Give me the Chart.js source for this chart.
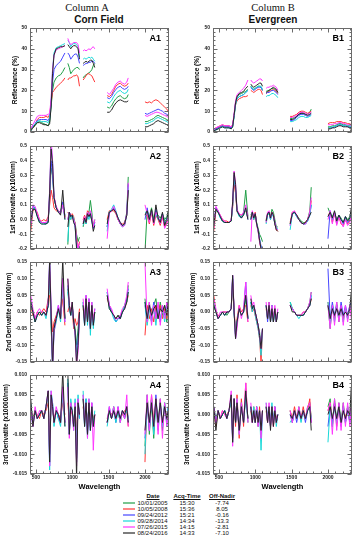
<!DOCTYPE html>
<html><head><meta charset="utf-8">
<script src="https://cdn.jsdelivr.net/npm/chart.js@4.4.1/dist/chart.umd.min.js"></script>
<style>
html,body{margin:0;padding:0;background:#fff;}
body{width:357px;height:550px;position:relative;overflow:hidden;font-family:"Liberation Sans",Arial,sans-serif;}
canvas{position:absolute;}
.t{position:absolute;white-space:nowrap;transform:translateX(-50%);color:#111;line-height:1;}
.lg{position:absolute;white-space:nowrap;transform:translateX(-50%);color:#111;font-size:6px;line-height:6px;}
.ln{position:absolute;height:2px;width:12px;left:123px;}
</style></head><body>
<div class="t" style="left:87px;top:2px;font:10.5px 'Liberation Serif',serif;">Column A</div>
<div class="t" style="left:99px;top:14px;font:bold 10px 'Liberation Sans',sans-serif;">Corn Field</div>
<div class="t" style="left:273px;top:2px;font:10.5px 'Liberation Serif',serif;">Column B</div>
<div class="t" style="left:273px;top:14px;font:bold 10px 'Liberation Sans',sans-serif;">Evergreen</div>
<div id="legend"></div>
<script>
// ---------------- DATA ----------------
const wavelengths = [430,460,490,520,550,580,610,640,670,690,710,730,750,780,810,840,870,900,
  940,960,980,1000,1020,1040,1060,1080,1100,
  1150,1170,1190,1210,1230,1250,1270,1290,1310,
  1480,1510,1540,1570,1600,1630,1660,1690,1720,1750,1770,
  2000,2030,2060,2090,2120,2150,2180,2210,2240,2270,2300,2320];
const xTickLabels = [500,1000,1500,2000];
const dates = ['10/01/2005','10/05/2008','09/24/2012','09/28/2014','07/26/2015','08/24/2016'];
const acqTimes = ['15:30','15:36','15:21','14:34','14:15','14:33'];
const offNadir = ['-7.74','8.05','-0.16','-13.3','-2.81','-7.10'];
const reflTicks = [0,10,20,30,40,50];
const d1Ticks = [-0.2,-0.1,0,0.1,0.2,0.3,0.4,0.5];
const d2Ticks = [-0.15,-0.10,-0.05,0,0.05,0.10,0.15];
const d3Ticks = [-0.015,-0.010,-0.005,0,0.005,0.010];

// series order: 2005 green, 2008 red, 2012 blue, 2014 cyan, 2015 magenta, 2016 black
const A1 = [
 [1,2,3,4.5,5,4.5,4,3.5,3,5,12,20,24,26,27,27.5,29,31, 33,31,28,29,30,30.5,31,31,30, 26,27,27.5,28,28.5,29,30,32,33, 12,11.5,12.5,14.5,16,17,17.5,16.5,16,16.5,18, 5,5,5.5,6,6.5,7.5,8,7.5,7,6.5,6,5.5],
 [2.5,2,3.5,6,7,7,7,7.5,7,8.5,14,19,20,21.5,22.5,23.5,24.5,26, 25,26,26,26.5,27,27,27.5,26.5,22, 25,26,27,28,28,27.5,27,25.5,24, 17.5,17,18,20,22,23,23.5,22.5,22,22.5,23.5, 14.5,14,14.5,14,15,15.5,15,14,13,12,11,10],
 [1.5,2.5,4,5.5,6,6,6,6,5.5,7,14,24,30,32,33,34,36,38, 38,37,35,36,37,37.5,37.5,36,33, 32,32.5,33,33,33.5,33.5,34,34,33, 16.5,16,17,19,20.5,21.5,22,21,20.5,21,22, 9,8.5,9,9.5,10,10.5,11,10.5,10,9,8.5,8],
 [0.5,2.5,4,5,5.5,5,5,5,4.5,6,14,30,38,40.5,41,41.5,42,42.5, 44,43,41,42,42.5,42.5,42,41,36, 35,35.5,35,35.5,36,35.5,36,35,34, 14.5,14,15,17,18.5,19.5,20,19,18.5,19,20.5, 4,4,4.5,5,5.5,6.5,7,6.5,6,5.5,5,4.5],
 [1.5,3.5,5.5,7.5,8,8,8,8,8.5,9,16,30,37,39.5,40,40.5,41,41.5, 45,43,42,42.5,43,43,43,42,38, 39,39.5,39,39.5,40,39.5,40.5,41,40, 19,18,19.5,21,23,24,24.5,23.5,23,24,26, 8,7.5,8,8.5,9,9.5,9.5,9,8.5,8,7.5,7],
 [0.5,2,3.5,4.5,4.5,4,3.5,3.5,3,4,12,28,37,40,40.5,41,41,41.5, 42,41,40,41,41.5,41.5,41,40,35, 33,33.5,34,33.5,34,34.5,34.5,33,31, 9.5,9.5,10.5,12.5,14,15,15.5,15,14.5,14.5,15, 2.5,2.5,3,3.5,4,5,5.5,5,4.5,4,3.5,3]
];
const B1 = [
 [1,1.5,2,2.5,3,2.5,2.5,2.5,2,3,8,14,17,18,18.5,19,19.5,20.5, 22,21,20.5,21,21.5,22,22,21.5,20, 19.5,20,20,20.5,21,21,20.5,20,19, 6.5,6.5,7,7.5,8.5,9,9,8.5,8.5,9.5,11, 2.5,2.5,3,3,3.5,4,4,3.5,3.5,3,3,3],
 [1.5,2,2.5,3,3.5,3,3,3,2.5,3.5,8,13,15,16,16.5,17,17,17.5, 20,19.5,19,19.5,20,20.5,20.5,20,18, 18.5,19,19.5,20,20,20.5,20,19.5,18.5, 7.5,7.5,8,8.5,9.5,10,10,9.5,9,9.5,10, 4,4.5,4.5,4.5,5,5,5,4.5,4.5,4,4,3.5],
 [1,1.5,2,2.5,3,2.5,2.5,2.5,2,3,8,14,16,17,17.5,18,19,20, 21.5,20.5,20,20.5,21,21.5,21.5,21.5,20, 18.5,19,19,19.5,20,20,19.5,19,18, 5.5,5.5,6,7,8,8.5,8.5,8,7.5,8,8.5, 1.5,2,2,2.5,3,3.5,3.5,3,3,2.5,2.5,2],
 [0.5,1,1.5,2,2.5,2,2,2,1.5,2.5,7,13,16,17,17.5,18,19,20, 22,21,20.5,21,21.5,22,22,22,20.5, 17,17.5,17.5,18,18.5,18.5,18,17.5,16.5, 5,5,5.5,6,7,7.5,7.5,7,7,7.5,8, 2,2,2.5,2.5,3,3.5,3.5,3,3,3,2.5,2.5],
 [1,2,2.5,3,3.5,3,3,3,2.5,3.5,9,15,18,19,20,21,22.5,25, 25,24,23.5,24,24.5,25,25.5,25.5,24.5, 21,21.5,21.5,22,22,22.5,22,21.5,20, 7,7,7.5,8,9,9.5,9.5,9,8.5,9,9.5, 3.5,3.5,3.5,4,4,4.5,4.5,4,4,3.5,3.5,3],
 [0.5,1,1.5,2,2.5,2,2,2,1.5,2.5,8,14,17,18.5,19,19.5,21,22, 23,22,21.5,22,22.5,23,23.5,23.5,22, 19,19.5,20,20.5,21,21.5,21,20.5,19, 6,6,6.5,7.5,8.5,9,9,8.5,8,8.5,9, 1.5,1.5,2,2,2.5,3,3,2.5,2.5,2.5,2,2]
];
const A2 = [
 [-0.05,0.08,0.07,0.03,-0.01,-0.02,-0.02,-0.03,-0.01,0.15,0.35,0.3,0.15,0.08,0.06,0.05,0.12,0.02, -0.17,0.05,0.02,0.03,0,-0.02,-0.1,-0.15,-0.12, -0.05,0,-0.03,0.03,0.05,0.13,0.05,-0.05,0, -0.05,0.05,0.06,0.07,0.05,0,-0.03,-0.04,-0.03,0.05,0.29, -0.22,0.06,0.02,0.08,0,0.05,0.03,0.01,0.04,0,0.02,0.05],
 [-0.08,0.06,0.07,0.05,0,-0.01,0,-0.01,0.02,0.1,0.2,0.15,0.08,0.06,0.05,0.05,0.1,0.02, 0.05,0.03,0,0.04,0.02,-0.03,-0.12,-0.2,-0.15, 0,0.03,0,0.06,0.05,0.02,0,-0.04,-0.02, 0,0.06,0.06,0.06,0.04,0,-0.02,-0.03,-0.02,0.03,0.2, 0.02,0.03,-0.03,0.05,-0.04,0.03,0,-0.04,0.02,-0.05,-0.02,0],
 [-0.03,0.09,0.08,0.03,-0.01,-0.02,-0.02,-0.03,-0.01,0.15,0.4,0.3,0.15,0.08,0.05,0.05,0.12,0.03, 0,0.05,0.02,0.03,-0.01,-0.05,-0.18,-0.25,-0.2, -0.03,0.01,-0.02,0.04,0.02,0.03,0,-0.06,-0.02, -0.05,0.05,0.06,0.08,0.05,0.01,-0.02,-0.04,-0.03,0.04,0.24, 0,0.08,0,0.06,-0.02,0.07,0.02,-0.02,0.04,-0.03,0,0.04],
 [-0.02,0.07,0.08,0.02,-0.02,-0.03,-0.03,-0.03,-0.02,0.2,0.5,0.4,0.15,0.08,0.05,0.04,0.1,0, -0.15,0.05,0,0.03,0.01,-0.04,-0.15,-0.22,-0.18, -0.04,0,-0.03,0.03,0,0.05,-0.02,-0.05,-0.03, -0.08,0.05,0.07,0.1,0.06,0.01,-0.03,-0.05,-0.04,0.03,0.22, 0.05,0.05,0.01,0.05,-0.01,0.04,0,-0.01,0.03,-0.02,0.01,0.03],
 [-0.04,0.1,0.09,0.04,0,-0.02,-0.02,-0.02,0,0.2,0.55,0.4,0.16,0.09,0.06,0.04,0.1,0.01, 0,0.05,0.03,0.02,0,-0.03,-0.14,-0.2,-0.16, -0.02,0.02,-0.02,0.05,0.03,0.06,0.02,-0.05,0, -0.13,0.04,0.06,0.09,0.05,0,-0.03,-0.05,-0.04,0.04,0.25, 0.1,0.04,-0.02,0.06,-0.03,0.05,0.02,-0.03,0.03,-0.06,-0.03,0.02],
 [-0.01,0.07,0.07,0.02,-0.02,-0.03,-0.03,-0.03,-0.02,0.18,0.48,0.38,0.15,0.08,0.05,0.03,0.2,0, -0.05,0.05,0.02,0.03,-0.02,-0.04,-0.2,-0.25,-0.2, -0.03,0.01,-0.02,0.04,0.02,0.04,-0.01,-0.08,-0.04, -0.03,0.05,0.06,0.07,0.05,0.01,-0.02,-0.04,-0.03,0.03,0.2, 0.03,0.06,0,0.07,-0.02,0.1,0.01,-0.02,0.05,-0.04,0,0.06]
];
const B2 = [
 [-0.05,0.07,0.05,0.02,-0.01,-0.02,-0.02,-0.02,-0.01,0.1,0.3,0.2,0.06,0.03,0.02,0.05,0.2,0.02, 0.03,0.05,0.02,0.04,-0.02,-0.06,-0.1,-0.12,-0.15, -0.02,0.03,0.05,0.02,0.07,0.05,0,-0.05,-0.05, -0.03,0.04,0.05,0.03,0.01,-0.01,-0.02,-0.02,0,0.06,0.22, 0.08,0.04,0.02,0.05,0,0.03,0.01,-0.02,0.02,0,0.02,0.06],
 [-0.08,0.06,0.05,0.03,0,-0.01,-0.01,-0.02,0,0.08,0.25,0.18,0.05,0.04,0.03,0.04,0.06,0.01, 0.02,0.04,0,0.05,-0.03,-0.08,-0.15,-0.2,-0.22, 0,0.04,0.05,0.01,0.05,0.03,-0.03,-0.07,-0.08, -0.02,0.05,0.05,0.03,0,-0.02,-0.03,-0.02,0,0.04,0.13, 0.03,0.05,-0.02,0.04,-0.03,0.02,-0.03,-0.04,0,-0.03,-0.01,0.02],
 [-0.03,0.08,0.06,0.02,-0.01,-0.02,-0.02,-0.02,-0.01,0.1,0.3,0.2,0.06,0.03,0.01,0.04,0.08,0, 0,0.05,0.01,0.04,-0.03,-0.07,-0.13,-0.18,-0.2, -0.01,0.04,0.05,0,0.04,0.02,-0.02,-0.06,-0.07, -0.04,0.04,0.05,0.02,0,-0.02,-0.03,-0.03,-0.01,0.03,0.1, -0.13,0.06,0,0.05,-0.02,0.03,0,-0.03,0.02,-0.02,0,0.05],
 [0.05,0.06,0.05,0.01,-0.01,-0.02,-0.02,-0.02,-0.01,0.1,0.3,0.22,0.06,0.02,0.02,0.03,0.07,0.01, 0.01,0.04,0,0.03,-0.03,-0.08,-0.14,-0.19,-0.22, -0.03,0.03,0.04,0,0.04,0.02,-0.03,-0.06,-0.06, -0.07,0.04,0.05,0.02,0,-0.02,-0.03,-0.03,-0.01,0.03,0.1, 0.02,0.05,0,0.04,-0.01,0.02,0,-0.02,0.01,-0.01,0.01,0.04],
 [-0.06,0.09,0.06,0.03,0,-0.01,-0.02,-0.02,0,0.12,0.33,0.25,0.07,0.04,0.03,0.05,0.1,0.02, -0.15,0.06,0.02,0.04,-0.04,-0.08,-0.15,-0.2,-0.22, -0.02,0.05,0.06,0.01,0.05,0.03,-0.02,-0.06,-0.07, -0.04,0.05,0.06,0.03,0,-0.02,-0.03,-0.03,0,0.05,0.15, 0,0.06,-0.03,0.05,-0.04,0.02,-0.02,-0.05,0,-0.04,-0.02,0.03],
 [-0.04,0.07,0.05,0.02,-0.01,-0.02,-0.02,-0.02,-0.01,0.12,0.32,0.24,0.06,0.03,0.01,0.03,0.08,0, 0,0.05,0.01,0.04,-0.03,-0.07,-0.14,-0.2,-0.25, -0.01,0.04,0.05,0.01,0.05,0.03,-0.03,-0.07,-0.08, -0.03,0.04,0.05,0.03,0,-0.02,-0.03,-0.02,0,0.03,0.05, 0.02,0.05,0.01,0.06,-0.01,0.03,0,-0.02,0.02,-0.01,0.01,0.08]
];
const A3 = [
 [0.03,0,-0.02,-0.01,0,0,0,-0.01,0.02,0.12,-0.05,-0.14,-0.04,-0.02,0.01,-0.02,0.08,-0.02, 0.07,0.02,0,0.02,-0.02,-0.05,-0.1,-0.05,0, 0.02,-0.03,0.04,-0.02,0.03,-0.04,0.02,-0.03,0, 0.05,0.02,0,-0.01,-0.02,-0.01,-0.02,0,0.02,0.04,0.08, 0.04,-0.02,0.03,-0.03,0.02,0.04,-0.02,0.03,-0.01,0.02,-0.03,0.04],
 [0.02,-0.01,-0.02,0,-0.01,0,0.01,0,0.04,0.05,0,-0.06,-0.03,-0.01,0.01,-0.01,0.04,-0.04, 0,0.02,0,0.01,-0.05,-0.02,-0.04,-0.03,0.01, 0.01,-0.02,0.03,-0.03,0.02,-0.03,0.01,-0.02,0, 0.04,0.02,0,-0.01,-0.02,-0.02,-0.01,0,0.01,0.03,0.05, -0.07,0.02,-0.02,0.01,-0.03,0.02,-0.01,0.02,-0.02,0.01,-0.02,0.02],
 [0.03,0,-0.03,-0.01,0,-0.01,0,-0.01,0.02,0.14,-0.02,-0.16,-0.05,-0.02,0.02,-0.02,0.1,-0.03, 0.08,0.01,-0.01,0.02,-0.03,-0.06,-0.12,-0.08,0, 0.03,-0.04,0.05,-0.03,0.04,-0.05,0.02,-0.04,0.01, 0.06,0.02,0,-0.01,-0.03,-0.02,-0.02,0,0.01,0.04,0.07, 0.02,-0.03,0.02,-0.02,0.03,-0.02,0.01,-0.03,0.02,-0.01,0.02,0.03],
 [0.04,0,-0.03,-0.01,0,-0.01,0,-0.02,0.02,0.16,0,-0.18,-0.06,-0.03,0.01,-0.03,0.09,-0.02, 0.06,0.01,-0.01,0.02,-0.03,-0.07,-0.14,-0.1,-0.02, 0.03,-0.04,0.04,-0.04,0.03,-0.07,0.03,-0.05,0, 0.06,0.01,0,-0.02,-0.03,-0.02,-0.01,0,0.02,0.03,0.06, 0.03,-0.04,0.01,-0.03,0.02,-0.04,0.02,-0.02,0.01,-0.03,0.01,0.02],
 [0.05,0.01,-0.02,0,0.01,0,0,-0.01,0.03,0.16,0.02,-0.18,-0.06,-0.02,0.02,-0.02,0.1,-0.03, 0.1,0.02,0,0.03,-0.03,-0.07,-0.16,-0.12,-0.02, 0.04,-0.03,0.05,-0.02,0.04,-0.05,0.03,-0.03,0.01, 0.07,0.02,0.01,-0.01,-0.02,-0.02,-0.01,0.01,0.02,0.05,0.09, 0.15,-0.03,0.03,-0.04,0.02,-0.02,0.03,-0.04,0.02,-0.02,0.03,0],
 [0.03,0,-0.03,-0.01,0,-0.01,0,-0.01,0.02,0.15,0,-0.17,-0.05,-0.02,0.01,-0.02,0.16,-0.02, 0.1,0.02,-0.01,0.03,-0.03,-0.06,-0.16,-0.1,0, 0.02,-0.04,0.04,-0.03,0.03,-0.05,0.02,-0.04,0, 0.05,0.01,0,-0.01,-0.02,-0.01,-0.02,0,0.01,0.03,0.06, 0.03,-0.02,0.02,-0.01,0.01,0.02,-0.02,0.01,0,0.02,-0.01,0.03]
];
const B3 = [
 [0.02,0,-0.02,-0.01,0,0,-0.01,0,0.01,0.1,0,-0.07,-0.03,0.01,-0.01,0,0.04,-0.02, 0.03,0.01,0.02,0,-0.02,-0.04,-0.06,-0.1,-0.05, 0.02,-0.02,0.03,-0.03,0.02,-0.02,0.01,-0.03,0, 0.03,0.01,0,-0.01,-0.01,-0.01,-0.01,0,0.01,0.03,0.06, 0.02,-0.05,0.02,-0.02,0.03,-0.03,0.02,-0.02,0.01,-0.02,0.02,0.03],
 [0.05,0,-0.01,-0.01,0,0,0,0,0.01,0.08,0.01,-0.06,-0.02,0.02,0,0.01,0.02,-0.03, 0.02,0,0.01,-0.01,-0.03,-0.05,-0.08,-0.15,-0.06, 0.01,-0.02,0.02,-0.02,0.01,-0.03,0.01,-0.02,0, 0.02,0.01,0,-0.01,-0.01,-0.01,0,0,0.01,0.02,0.04, 0.03,-0.02,0.01,-0.02,0.02,-0.01,0.01,-0.02,0.01,-0.01,0.01,0.02],
 [0.03,0,-0.02,-0.01,0,-0.01,0,0,0.01,0.11,0,-0.08,-0.03,0.01,-0.01,0,0.09,-0.02, 0.03,0.01,0.02,0,-0.02,-0.04,-0.07,-0.1,-0.05, 0.02,-0.03,0.02,-0.03,0.02,-0.03,0.01,-0.03,0, 0.02,0.01,0,-0.01,-0.01,-0.01,-0.01,0,0.01,0.02,0.05, 0.13,-0.02,0.03,-0.01,0.02,-0.02,0.03,-0.01,0.02,-0.01,0.02,0.03],
 [0.03,0,-0.02,-0.01,0,-0.01,0,0,0.01,0.1,0,-0.07,-0.03,0.01,-0.01,0,0.05,-0.02, 0.03,0,0.02,-0.01,-0.03,-0.05,-0.08,-0.13,-0.06, 0.02,-0.02,0.02,-0.02,0.02,-0.03,0,-0.02,0, 0.03,0.01,0,-0.01,-0.02,-0.01,-0.01,0,0.01,0.02,0.05, 0.03,-0.04,0.02,-0.03,0.02,-0.02,0.01,-0.03,0.01,-0.02,0.01,0.02],
 [0.04,0.01,-0.02,0,0,0,0,0,0.01,0.11,0.01,-0.08,-0.05,0.02,-0.02,0.01,0.09,-0.03, 0.05,0.02,0.03,0,-0.02,-0.04,-0.07,-0.11,-0.05, 0.03,-0.02,0.03,-0.02,0.02,-0.02,0.02,-0.03,0.01, 0.02,0.01,0,-0.01,-0.01,-0.01,0,0,0.01,0.03,0.06, 0.02,-0.05,0.02,-0.04,0.03,-0.03,0.02,-0.04,0.02,-0.03,0.02,-0.02],
 [0.02,0,-0.02,-0.01,0,-0.01,0,0,0.01,0.11,0,-0.08,-0.03,0.01,-0.01,0,0.05,-0.02, 0.04,0.01,0.02,0,-0.02,-0.04,-0.07,-0.11,-0.05, 0.02,-0.02,0.02,-0.03,0.01,-0.03,0.01,-0.03,0, 0.02,0,0,-0.01,-0.01,-0.01,-0.01,0,0.01,0.02,0.04, 0.02,-0.02,0.01,-0.01,0.01,-0.01,0.01,-0.01,0,-0.01,0.01,0.06]
];
const A4 = [
 [0.001,-0.002,0.001,-0.001,0,0.001,-0.001,0.002,0.005,-0.01,0.004,0.002,-0.002,0.001,0,-0.002,0.006,-0.002, 0.008,-0.004,0.002,0.001,-0.003,0.002,-0.008,0.003,0, 0.004,-0.002,0.003,-0.004,0.003,-0.003,0.002,-0.002,0, -0.002,0.001,-0.001,0.002,-0.001,0.001,-0.002,0.001,-0.001,0.002,-0.001, -0.008,0.004,-0.005,0.003,-0.006,0.004,-0.003,0.004,-0.004,0.003,-0.002,0.002],
 [0.002,-0.001,0.001,0,-0.001,0.001,0,0.001,0.003,-0.006,0.003,0.001,-0.001,0.001,0,-0.001,0.003,0, 0.003,-0.002,0.001,0,-0.002,0.001,-0.004,0.002,0, 0.002,-0.001,0.002,-0.003,0.002,-0.002,0.001,-0.001,0, -0.001,0.001,0,0.001,-0.001,0.001,-0.001,0,0.001,0.001,-0.003, -0.012,0.005,-0.003,0.005,-0.002,0.003,-0.002,0.002,-0.002,0.002,-0.001,0.001],
 [0.001,-0.003,0.001,-0.001,0,0.001,-0.001,0.002,0.006,-0.013,0.005,0.003,-0.002,0.001,-0.001,-0.002,0.007,-0.002, 0.008,-0.005,0.003,0.001,-0.003,0.003,-0.012,0.004,-0.001, 0.005,-0.003,0.004,-0.005,0.003,-0.004,0.003,-0.003,0, -0.002,0.002,-0.001,0.001,-0.002,0.002,-0.001,0.001,-0.001,0.002,-0.002, -0.006,0.003,-0.004,0.004,-0.004,0.005,-0.003,0.003,-0.003,0.002,-0.002,0.002],
 [0.003,-0.002,0.001,-0.001,0,0.001,-0.001,0.002,0.005,-0.014,0.006,0.003,-0.003,0.001,-0.001,-0.003,0.006,-0.003, 0.009,-0.005,0.004,0.001,-0.004,0.004,-0.011,0.005,-0.001, 0.006,-0.003,0.004,-0.006,0.004,-0.004,0.002,-0.003,0.001, -0.003,0.001,-0.001,0.002,-0.002,0.001,-0.002,0.001,0,0.001,-0.001, -0.01,0.005,-0.003,0.004,-0.005,0.003,-0.004,0.002,-0.003,0.003,-0.003,0.002],
 [0.002,-0.003,0.002,-0.001,0.001,0.001,-0.001,0.002,0.006,-0.013,0.006,0.002,-0.002,0.002,0,-0.002,0.007,-0.002, 0.007,-0.006,0.003,0,-0.004,0.003,-0.013,0.004,0, 0.005,-0.002,0.003,-0.006,0.004,-0.003,0.003,-0.009,0, -0.002,0.002,-0.001,0.002,-0.001,0.002,-0.002,0.001,-0.001,0.005,-0.003, -0.005,0.005,-0.004,0.005,-0.003,0.004,-0.005,0.004,-0.006,0.003,-0.003,0.001],
 [0.004,-0.003,0.001,-0.001,0,0.001,-0.001,0.002,0.006,-0.012,0.005,0.002,-0.002,0.001,0,-0.002,0.011,-0.003, 0.011,-0.005,0.002,0.001,-0.003,0.002,-0.016,0.003,0, 0.004,-0.003,0.003,-0.005,0.003,-0.004,0.002,-0.003,0, -0.002,0.001,-0.001,0.001,-0.001,0.001,-0.001,0.001,0,0.002,-0.002, -0.004,0.003,-0.002,0.003,-0.003,0.004,-0.002,0.003,-0.002,0.002,-0.001,0.001]
];
const B4 = [
 [0.002,-0.001,0.001,-0.001,0,0.001,-0.001,0.001,0.003,-0.006,0.004,-0.002,0.003,-0.004,0.003,-0.002,0.005,-0.001, 0.002,-0.001,0.001,-0.002,0.002,-0.002,0.001,-0.004,0.001, 0.002,-0.001,0.002,-0.003,0.002,-0.002,0.002,-0.002,0, 0.001,-0.002,0.001,-0.001,0.002,-0.001,0.001,-0.001,0.002,0.003,-0.001, 0.002,0.004,-0.003,0.004,-0.002,0.003,-0.002,0.003,-0.002,0.002,-0.002,0.003],
 [0.001,-0.003,0.001,-0.001,0.001,0,0,0.001,0.004,-0.005,0.004,-0.003,0.005,-0.006,0.004,-0.003,0.008,-0.002, 0.001,-0.002,0.002,-0.001,0.001,-0.003,0.002,-0.005,0.001, 0.001,-0.002,0.002,-0.002,0.001,-0.003,0.001,-0.001,0, 0.001,-0.001,0.002,-0.001,0.001,-0.001,0.002,-0.001,0.001,0.004,-0.002, 0.001,0.003,-0.002,0.003,-0.003,0.002,-0.002,0.002,-0.001,0.002,-0.001,0.002],
 [0.002,-0.002,0.001,-0.001,0,0.001,-0.001,0.001,0.004,-0.006,0.004,-0.002,0.003,-0.004,0.002,-0.002,0.005,-0.001, 0.002,-0.002,0.001,-0.002,0.002,-0.002,0.001,-0.005,0.001, 0.002,-0.002,0.002,-0.003,0.002,-0.002,0.002,-0.002,0, 0,-0.002,0.001,-0.002,0.001,-0.001,0.001,-0.002,0.001,0.002,-0.002, -0.003,0.002,-0.002,0.003,-0.002,0.002,-0.003,0.002,-0.002,0.001,-0.002,0.002],
 [0.001,-0.002,0.001,-0.001,0,0.001,-0.001,0.001,0.004,-0.007,0.004,-0.002,0.004,-0.005,0.003,-0.002,0.005,-0.002, 0.002,-0.001,0.002,-0.002,0.002,-0.003,0.001,-0.009,0, 0.003,-0.001,0.002,-0.002,0.003,-0.002,0.001,-0.003,0, -0.002,-0.001,0.001,-0.001,0.001,-0.002,0.001,-0.001,0.001,0.002,-0.001, -0.007,0.002,-0.003,0.002,-0.002,0.002,-0.002,0.002,-0.002,0.002,-0.001,0.001],
 [0.002,-0.002,0.001,-0.001,0.001,0,-0.001,0.001,0.006,-0.008,0.004,-0.002,0.004,-0.005,0.003,-0.002,0.008,-0.002, 0.003,-0.002,0.001,-0.002,0.002,-0.003,0.001,-0.006,0.001, 0.003,-0.002,0.003,-0.003,0.002,-0.003,0.002,-0.002,0, 0.001,-0.002,0.001,-0.001,0.002,-0.001,0.001,-0.001,0.002,0.003,-0.002, 0.001,0.003,-0.005,0.004,-0.004,0.003,-0.004,0.003,-0.003,0.003,-0.003,0.002],
 [0.002,-0.004,0.001,-0.001,0,0.001,-0.001,0.001,0.005,-0.007,0.004,-0.002,0.003,-0.004,0.002,-0.002,0.006,-0.001, 0.002,-0.002,0.001,-0.002,0.001,-0.002,0.001,-0.004,0.001, 0.002,-0.002,0.002,-0.004,0.002,-0.003,0.001,-0.002,0, 0,-0.001,0.001,-0.001,0.001,-0.001,0.001,-0.001,0.001,0.002,-0.004, 0,0.002,-0.001,0.002,-0.001,0.002,-0.002,0.001,-0.001,0.001,0,0.007]
];

// ---------------- STYLE / LAYOUT ----------------
const COLORS = ['#1f9e46','#ff3434','#4646ff','#18d8d8','#ff36ff','#262626'];
const X_MIN = 420, X_MAX = 2330;
const FONT = "'Liberation Sans', Arial, sans-serif";
const rowTop = [27,145,261,374], rowBot = [133,250,363,474];
const colLeft = [0,176], colWidth = [173,180], yAxisW = [30,37];
const titleCx = [[15,13,9,6],[197,197,193,187]];

const panels = [
  {label:'A1', data:A1, c:0, r:0, ticks:reflTicks, dec:0, minor:2, title:'Reflectance (%)'},
  {label:'A2', data:A2, c:0, r:1, ticks:d1Ticks, dec:1, minor:0.02, title:'1st Derivatite (x100/nm)'},
  {label:'A3', data:A3, c:0, r:2, ticks:d2Ticks, dec:2, minor:0.01, title:'2nd Derivatite (x1000/nm)'},
  {label:'A4', data:A4, c:0, r:3, ticks:d3Ticks, dec:3, minor:0.001, title:'3rd Derivatite (x10000/nm)'},
  {label:'B1', data:B1, c:1, r:0, ticks:reflTicks, dec:0, minor:2, title:'Reflectance (%)'},
  {label:'B2', data:B2, c:1, r:1, ticks:d1Ticks, dec:1, minor:0.02, title:'1st Derivatite (x100/nm)'},
  {label:'B3', data:B3, c:1, r:2, ticks:d2Ticks, dec:2, minor:0.01, title:'2nd Derivatite (x1000/nm)'},
  {label:'B4', data:B4, c:1, r:3, ticks:d3Ticks, dec:3, minor:0.001, title:'3rd Derivatite (x10000/nm)'}
];

function toPoints(vals){
  if (vals.length !== wavelengths.length) throw new Error('length mismatch ' + vals.length);
  const out = [];
  for (let i = 0; i < wavelengths.length; i++){
    if (i > 0 && wavelengths[i] - wavelengths[i-1] > 35) out.push({x:(wavelengths[i]+wavelengths[i-1])/2, y:null});
    out.push({x:wavelengths[i], y:vals[i]});
  }
  return out;
}

function stepValues(min, max, step){
  const res = [];
  const n0 = Math.ceil(min/step - 1e-6), n1 = Math.floor(max/step + 1e-6);
  for (let n = n0; n <= n1; n++) res.push(n*step);
  return res;
}

const frameTicks = {
  id:'frameTicks',
  afterDatasetsDraw(chart, args, o){
    const {ctx, chartArea:a, scales:{x, y}} = chart;
    ctx.save();
    ctx.strokeStyle = '#6a6a6a'; ctx.lineWidth = 1;
    const L = Math.round(a.left)+0.5, R = Math.round(a.right)-0.5, T = Math.round(a.top)+0.5, B = Math.round(a.bottom)-0.5;
    ctx.strokeRect(L, T, R-L, B-T);
    ctx.beginPath();
    stepValues(X_MIN, X_MAX, 100).forEach(v => {
      const px = Math.round(x.getPixelForValue(v))+0.5;
      const len = (Math.round(v) % 500 === 0) ? 4 : 2;
      ctx.moveTo(px, B); ctx.lineTo(px, B-len);
      ctx.moveTo(px, T); ctx.lineTo(px, T+len);
    });
    const maj = o.ticks[1]-o.ticks[0];
    stepValues(y.min, y.max, o.minor).forEach(v => {
      const py = Math.round(y.getPixelForValue(v))+0.5;
      const q = v/maj;
      const len = Math.abs(q - Math.round(q)) < 1e-6 ? 4 : 2;
      ctx.moveTo(L, py); ctx.lineTo(L+len, py);
      ctx.moveTo(R, py); ctx.lineTo(R-len, py);
    });
    ctx.stroke();
    ctx.fillStyle = '#000';
    ctx.font = 'bold 9px ' + FONT;
    ctx.textAlign = 'right'; ctx.textBaseline = 'alphabetic';
    ctx.fillText(o.label, a.right - 8, a.top + 13);
    ctx.restore();
  }
};

panels.forEach(p => {
  const bottomRow = p.r === 3;
  const cv = document.createElement('canvas');
  const top = rowTop[p.r] - 5;
  const h = (rowBot[p.r] - rowTop[p.r]) + 5 + (bottomRow ? 26 : 5);
  cv.width = colWidth[p.c]; cv.height = h;
  cv.style.left = colLeft[p.c] + 'px'; cv.style.top = top + 'px';
  cv.style.width = colWidth[p.c] + 'px'; cv.style.height = h + 'px';
  document.body.appendChild(cv);
  const yMin = p.ticks[0], yMax = p.ticks[p.ticks.length-1];
  const titleLH = 6.5*1.2;
  new Chart(cv, {
    type:'line',
    data:{datasets: p.data.map((vals, i) => ({
      data: toPoints(vals), borderColor: COLORS[i], borderWidth: 1, pointRadius: 0,
      tension: 0, spanGaps: false, fill: false, order: 5 - i
    }))},
    options:{
      responsive:false, animation:false, devicePixelRatio:1,
      layout:{padding:{top:5, bottom: bottomRow ? 0 : 5, left:0, right:4}},
      plugins:{legend:{display:false}, tooltip:{enabled:false},
        frameTicks:{label:p.label, minor:p.minor, ticks:p.ticks}},
      scales:{
        x:{type:'linear', min:X_MIN, max:X_MAX, display: bottomRow,
          grid:{display:false, drawTicks:false}, border:{display:false},
          afterBuildTicks: s => { s.ticks = xTickLabels.map(v => ({value:v})); },
          afterFit: s => { s.height = bottomRow ? 26 : 0; },
          ticks:{padding:1, color:'#222', maxRotation:0, autoSkip:false,
            font:{family:FONT, size:5, weight:'bold'}, callback: v => String(v)},
          title:{display:true, text:'Wavelength', color:'#000', padding:{top:0, bottom:9},
            font:{family:FONT, size:7.5, weight:'bold'}}
        },
        y:{type:'linear', min:yMin, max:yMax,
          grid:{display:false, drawTicks:false}, border:{display:false},
          afterBuildTicks: s => { s.ticks = p.ticks.map(v => ({value:v})); },
          afterFit: s => { s.width = yAxisW[p.c]; },
          ticks:{padding:3, color:'#222', autoSkip:false,
            font:{family:FONT, size:5, weight:'bold'}, callback: v => Number(v).toFixed(p.dec)},
          title:{display:true, text:p.title, color:'#000',
            padding:{top: titleCx[p.c][p.r] - colLeft[p.c] - titleLH/2, bottom:0},
            font:{family:FONT, size:6.5, weight:'bold'}}
        }
      }
    },
    plugins:[frameTicks]
  });
});

// ---------------- LEGEND ----------------
const lg = document.getElementById('legend');
function addText(txt, cx, cy, extra){
  const d = document.createElement('div');
  d.className = 'lg'; d.textContent = txt;
  d.style.left = cx + 'px'; d.style.top = (cy - 3) + 'px';
  if (extra) Object.assign(d.style, extra);
  lg.appendChild(d);
}
const hdr = {fontWeight:'bold', textDecoration:'underline'};
addText('Date', 153, 496, hdr);
addText('Acq-Time', 187, 496, hdr);
addText('Off-Nadir', 222, 496, hdr);
dates.forEach((d, i) => {
  const cy = 503 + i*6;
  const ln = document.createElement('div');
  ln.className = 'ln'; ln.style.top = (cy - 1) + 'px';
  ln.style.background = COLORS[i]; ln.style.opacity = '0.6';
  lg.appendChild(ln);
  addText(d, 152.5, cy);
  addText(acqTimes[i], 187, cy);
  addText(offNadir[i], 222, cy);
});
</script>
</body></html>
